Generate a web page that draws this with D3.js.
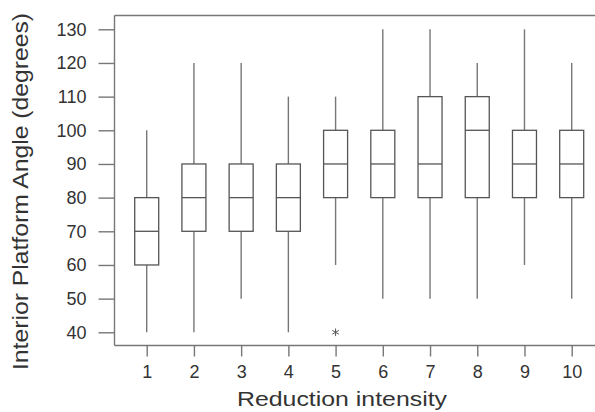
<!DOCTYPE html>
<html>
<head>
<meta charset="utf-8">
<script src="https://cdn.jsdelivr.net/npm/d3@7"></script>
<style>
  html, body { margin: 0; padding: 0; background: #fff; }
  svg { display: block; }
  text { font-family: "Liberation Sans", Arial, Helvetica, sans-serif; fill: #333; }
</style>
</head>
<body>
<svg id="chart" width="595" height="412"></svg>
<script>
// Reduction intensity groups
const categories = [1, 2, 3, 4, 5, 6, 7, 8, 9, 10];
// Five-number summaries per group (degrees)
const whiskerLow  = [40, 40, 50, 40, 60, 50, 50, 50, 60, 50];
const quartile1   = [60, 70, 70, 70, 80, 80, 80, 80, 80, 80];
const medians     = [70, 80, 80, 80, 90, 90, 90, 100, 90, 90];
const quartile3   = [80, 90, 90, 90, 100, 100, 110, 110, 100, 100];
const whiskerHigh = [100, 120, 120, 110, 110, 130, 130, 120, 130, 120];
// Outliers: [group, value]
const outliers = [[5, 40]];
const yTicks = [40, 50, 60, 70, 80, 90, 100, 110, 120, 130];

const svg = d3.select("#chart");
const frame = { left: 114.5, top: 15.5, right: 595, bottom: 345.5 };

const x = d3.scalePoint().domain(categories).range([146.7, 571.7]);
const y = d3.scaleLinear().domain([40, 130]).range([332.3, 29.3]);
const boxW = 24;

const lineCol = "#777";
const boxCol = "#555";

// Plot frame: top side
svg.append("line")
  .attr("x1", frame.left).attr("x2", frame.right)
  .attr("y1", frame.top).attr("y2", frame.top)
  .attr("stroke", lineCol).attr("stroke-width", 1.4);

// Left axis
const yAxis = svg.append("g")
  .attr("transform", `translate(${frame.left},0)`)
  .call(d3.axisLeft(y).tickValues(yTicks).tickSize(16).tickPadding(12).tickSizeOuter(0));
yAxis.select(".domain").remove();
yAxis.append("line")
  .attr("x1", 0).attr("x2", 0)
  .attr("y1", frame.top).attr("y2", frame.bottom)
  .attr("stroke", lineCol).attr("stroke-width", 1.4);
yAxis.selectAll(".tick line").attr("stroke", lineCol).attr("stroke-width", 1.4);
yAxis.selectAll(".tick text")
  .style("font-size", "18px").attr("fill", "#333")
  .attr("font-family", "Liberation Sans, Arial, sans-serif");

// Bottom axis
const xAxis = svg.append("g")
  .attr("transform", `translate(0,${frame.bottom})`)
  .call(d3.axisBottom(x).tickSize(11).tickPadding(9).tickSizeOuter(0));
xAxis.select(".domain").remove();
xAxis.append("line")
  .attr("x1", frame.left).attr("x2", frame.right)
  .attr("y1", 0).attr("y2", 0)
  .attr("stroke", lineCol).attr("stroke-width", 1.4);
xAxis.selectAll(".tick line").attr("stroke", lineCol).attr("stroke-width", 1.4);
xAxis.selectAll(".tick text")
  .style("font-size", "18px").attr("fill", "#333")
  .attr("font-family", "Liberation Sans, Arial, sans-serif");

// Box plots
const data = categories.map((c, i) => ({
  c, lo: whiskerLow[i], q1: quartile1[i], med: medians[i], q3: quartile3[i], hi: whiskerHigh[i]
}));

const g = svg.append("g");
const boxes = g.selectAll("g.box").data(data).join("g").attr("class", "box");

// Whiskers
boxes.append("line")
  .attr("x1", d => x(d.c)).attr("x2", d => x(d.c))
  .attr("y1", d => y(d.q3)).attr("y2", d => y(d.hi))
  .attr("stroke", lineCol).attr("stroke-width", 1.4);
boxes.append("line")
  .attr("x1", d => x(d.c)).attr("x2", d => x(d.c))
  .attr("y1", d => y(d.q1)).attr("y2", d => y(d.lo))
  .attr("stroke", lineCol).attr("stroke-width", 1.4);

// Interquartile boxes
boxes.append("rect")
  .attr("x", d => x(d.c) - boxW / 2)
  .attr("y", d => y(d.q3))
  .attr("width", boxW)
  .attr("height", d => y(d.q1) - y(d.q3))
  .attr("fill", "none")
  .attr("stroke", boxCol).attr("stroke-width", 1.3);

// Medians
boxes.append("line")
  .attr("x1", d => x(d.c) - boxW / 2).attr("x2", d => x(d.c) + boxW / 2)
  .attr("y1", d => y(d.med)).attr("y2", d => y(d.med))
  .attr("stroke", boxCol).attr("stroke-width", 1.3);

// Outliers drawn as asterisks
const star = d3.symbol().type(d3.symbolAsterisk).size(40);
g.selectAll("path.outlier").data(outliers).join("path")
  .attr("class", "outlier")
  .attr("d", star)
  .attr("transform", d => `translate(${x(d[0])},${y(d[1])})`)
  .attr("fill", "none").attr("stroke", boxCol).attr("stroke-width", 1);

// Axis titles
svg.append("text")
  .attr("x", 237).attr("y", 406)
  .attr("textLength", 210).attr("lengthAdjust", "spacingAndGlyphs")
  .style("font-size", "21px")
  .text("Reduction intensity");

svg.append("text")
  .attr("transform", "translate(27.5,370) rotate(-90)")
  .attr("x", 0).attr("y", 0)
  .attr("textLength", 357).attr("lengthAdjust", "spacingAndGlyphs")
  .style("font-size", "21.5px")
  .text("Interior Platform Angle (degrees)");
</script>
</body>
</html>
